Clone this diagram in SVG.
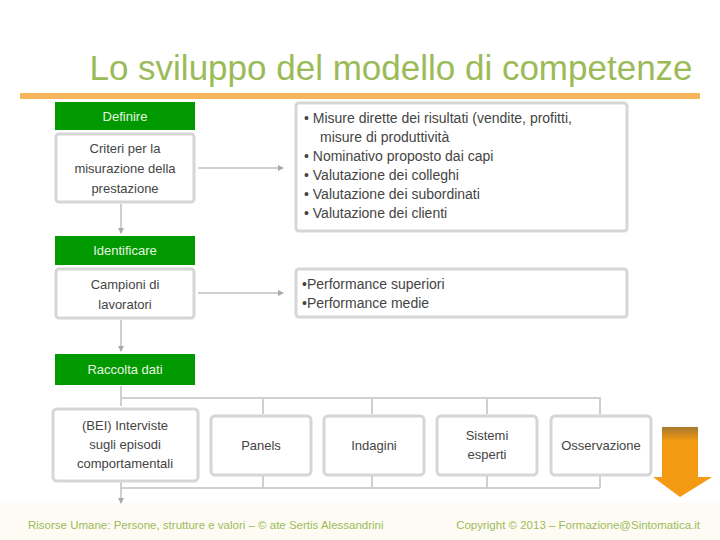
<svg xmlns="http://www.w3.org/2000/svg" width="720" height="540" viewBox="0 0 720 540">
<defs>
<style>
.t{font-family:"Liberation Sans",Arial,sans-serif;}
.g{fill:#009a00;}
.gt{font-family:"Liberation Sans",Arial,sans-serif;font-size:13px;fill:#e8f5e0;text-anchor:middle;}
.box{fill:#fff;stroke:#d6d6d6;stroke-width:3;}
.bt{font-family:"Liberation Sans",Arial,sans-serif;font-size:13px;fill:#444;text-anchor:middle;}
.lt{font-family:"Liberation Sans",Arial,sans-serif;font-size:14px;fill:#444;}
.ln{fill:none;stroke:#cfcfcf;stroke-width:2;}
</style>
<linearGradient id="og" x1="0" y1="0" x2="0" y2="1">
<stop offset="0" stop-color="#a8782f"/><stop offset="0.2" stop-color="#f39a12"/><stop offset="1" stop-color="#f39a12"/>
</linearGradient>
<marker id="ah" markerWidth="6" markerHeight="6" refX="5" refY="3" orient="auto" markerUnits="userSpaceOnUse"><path d="M0,0 L6,3 L0,6 z" fill="#aaa"/></marker>
</defs>
<rect width="720" height="540" fill="#fff"/>
<rect x="0" y="503" width="720" height="37" fill="#fefbf4"/>
<text class="t" x="391" y="80" font-size="35" fill="#9bbb59" text-anchor="middle">Lo sviluppo del modello di competenze</text>
<rect x="20" y="93" width="680" height="6" fill="#f7b55c"/>

<g id="connectors">
<path class="ln" d="M121,204 V233" marker-end="url(#ah)"/>
<path class="ln" d="M121,320 V351" marker-end="url(#ah)"/>
<path class="ln" d="M198,168 H283" marker-end="url(#ah)"/>
<path class="ln" d="M198,293 H283" marker-end="url(#ah)"/>
<path class="ln" d="M121,386 V406 M121,398 H600 V414 M263,398 V414 M372,398 V414 M487,398 V414"/>
<path class="ln" d="M263,476 V488 M372,476 V488 M487,476 V488 M600,476 V488 M121,488 H600 M121,482 V503" marker-end="url(#ah)"/>
</g>

<g id="n-definire"><rect class="g" x="55" y="102" width="140" height="28"/><text class="gt" x="125" y="121">Definire</text></g>
<g id="n-criteri"><rect class="box" x="56" y="134" width="138" height="68" rx="3"/>
<text class="bt" x="125" y="153">Criteri per la</text><text class="bt" x="125" y="173">misurazione della</text><text class="bt" x="125" y="193">prestazione</text></g>
<g id="n-misure"><rect class="box" x="296" y="103" width="331" height="128" rx="3"/>
<text class="lt" x="304" y="123">•  Misure dirette dei risultati (vendite, profitti,</text>
<text class="lt" x="320" y="142">misure di produttività</text>
<text class="lt" x="304" y="161">•  Nominativo proposto dai capi</text>
<text class="lt" x="304" y="180">•  Valutazione dei colleghi</text>
<text class="lt" x="304" y="199">•  Valutazione dei subordinati</text>
<text class="lt" x="304" y="218">•  Valutazione dei clienti</text></g>

<g id="n-identificare"><rect class="g" x="55" y="236" width="140" height="29"/><text class="gt" x="125" y="255">Identificare</text></g>
<g id="n-campioni"><rect class="box" x="56" y="269" width="138" height="49" rx="3"/>
<text class="bt" x="125" y="289">Campioni di</text><text class="bt" x="125" y="309">lavoratori</text></g>
<g id="n-performance"><rect class="box" x="296" y="269" width="331" height="48" rx="3"/>
<text class="lt" x="302" y="289">•Performance superiori</text>
<text class="lt" x="302" y="308">•Performance medie</text></g>

<g id="n-raccolta"><rect class="g" x="55" y="354" width="140" height="31"/><text class="gt" x="125" y="374">Raccolta dati</text></g>

<g id="n-bei"><rect class="box" x="53" y="409" width="145" height="72" rx="4"/>
<text class="bt" x="125" y="430">(BEI) Interviste</text><text class="bt" x="125" y="449">sugli episodi</text><text class="bt" x="125" y="468">comportamentali</text></g>
<g id="n-panels"><rect class="box" x="211" y="416" width="100" height="59" rx="4"/><text class="bt" x="261" y="450">Panels</text></g>
<g id="n-indagini"><rect class="box" x="324" y="416" width="100" height="59" rx="4"/><text class="bt" x="374" y="450">Indagini</text></g>
<g id="n-sistemi"><rect class="box" x="437" y="416" width="100" height="59" rx="4"/><text class="bt" x="487" y="440">Sistemi</text><text class="bt" x="487" y="459">esperti</text></g>
<g id="n-osservazione"><rect class="box" x="551" y="416" width="100" height="59" rx="4"/><text class="bt" x="601" y="450">Osservazione</text></g>

<g id="n-arrow"><path d="M662,427 H698 V477 H712 L680,497 L653,477 H662 Z" fill="url(#og)"/></g>

<text class="t" x="28" y="529" font-size="11.5" fill="#9bbb59">Risorse Umane: Persone, strutture e valori – © ate Sertis Alessandrini</text>
<text class="t" x="700" y="529" font-size="11.5" fill="#9bbb59" text-anchor="end">Copyright © 2013 – Formazione@Sintomatica.it</text>
</svg>
